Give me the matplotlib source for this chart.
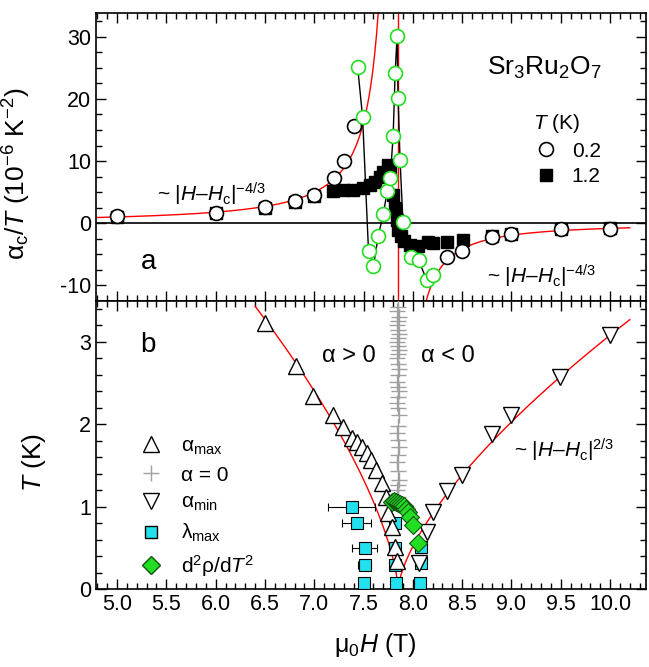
import matplotlib.pyplot as plt
import numpy as np
from matplotlib.lines import Line2D

plt.rcParams['font.family'] = ['Liberation Sans', 'DejaVu Sans']
plt.rcParams['mathtext.fontset'] = 'custom'
plt.rcParams['mathtext.rm'] = 'Liberation Sans'
plt.rcParams['mathtext.it'] = 'Liberation Sans:italic'
plt.rcParams['mathtext.bf'] = 'Liberation Sans:bold'

# ---- panel a : alpha_c / T vs field ----
H_02 = [5.0, 6.0, 6.5, 6.8, 7.0, 7.2, 7.3, 7.4, 8.35, 8.5, 8.8, 9.0, 9.5, 10.0]
a_02 = [1.1, 1.6, 2.6, 3.5, 4.6, 7.2, 10.0, 15.7, -5.5, -4.5, -2.2, -1.8, -1.0, -0.9]

H_12 = [5.0, 6.0, 6.5, 6.8, 7.0, 7.19, 7.29, 7.39, 7.49, 7.57, 7.62, 7.67, 7.70,
        7.75, 7.77, 7.80, 7.82, 7.84, 7.85, 7.88, 7.91, 7.97, 8.05, 8.15, 8.2,
        8.35, 8.51, 8.8, 9.0, 9.5, 10.0]
a_12 = [1.0, 1.7, 2.5, 3.4, 4.4, 5.1, 5.3, 5.3, 5.6, 6.1, 6.7, 7.5, 8.3,
        9.3, 8.5, 4.6, 2.4, 0.5, -1.1, -2.1, -2.9, -3.5, -3.7, -3.0, -3.2,
        -3.0, -2.7, -2.0, -1.7, -1.0, -0.8]

# fine sweep near Hc (green open circles)
H_sw = [7.44, 7.49, 7.55, 7.60, 7.65, 7.70, 7.74, 7.77, 7.80, 7.82, 7.84, 7.85,
        7.87, 7.90, 7.98, 8.06, 8.14, 8.20]
a_sw = [25.1, 17.1, -4.5, -6.9, -2.0, 1.5, 5.1, 7.2, 14.1, 24.2, 30.2, 20.2,
        10.1, 0.1, -5.5, -6.0, -9.2, -8.3]

# power-law fits
Hc = 7.85
A_left, A_right = 4.0, 2.35
B_left, B_right = 2.68, 1.85

# ---- panel b : phase diagram ----
H_amax = [6.5, 6.81, 6.99, 7.19, 7.29, 7.38, 7.43, 7.48, 7.53, 7.58, 7.63, 7.69,
          7.73, 7.75, 7.79, 7.82, 7.84]
T_amax = [3.23, 2.71, 2.35, 2.11, 1.97, 1.84, 1.79, 1.73, 1.66, 1.57, 1.45, 1.29,
          1.12, 0.93, 0.76, 0.51, 0.34]

H_amin = [10.0, 9.49, 9.0, 8.8, 8.5, 8.35, 8.2, 8.14, 8.06]
T_amin = [3.09, 2.57, 2.11, 1.89, 1.39, 1.19, 0.94, 0.70, 0.32]

T_zero = [3.42, 3.37, 3.30, 3.25, 3.20, 3.15, 3.10, 3.05, 3.00, 2.95, 2.90, 2.85,
          2.80, 2.73, 2.67, 2.60, 2.52, 2.45, 2.40, 2.33, 2.26, 2.20, 2.12, 1.98,
          1.90, 1.81, 1.73, 1.63, 1.54, 1.43, 1.33, 1.27, 1.20, 1.12, 1.05]
H_zero = [7.85, 7.84, 7.86, 7.85, 7.84, 7.85, 7.86, 7.85, 7.84, 7.85, 7.86, 7.85,
          7.84, 7.85, 7.86, 7.85, 7.84, 7.85, 7.86, 7.85, 7.84, 7.85, 7.86, 7.85,
          7.84, 7.85, 7.86, 7.85, 7.84, 7.85, 7.86, 7.85, 7.84, 7.85, 7.86]

H_lam = [7.38, 7.43, 7.51, 7.51, 7.50, 7.82, 7.82, 7.82, 7.83, 8.08, 8.08, 8.07]
T_lam = [1.00, 0.80, 0.50, 0.30, 0.08, 0.80, 0.50, 0.30, 0.08, 0.52, 0.32, 0.08]
dH_lam = [0.24, 0.15, 0.13, 0.07, 0.04, 0.04, 0.04, 0.04, 0.04, 0.04, 0.04, 0.04]

H_rho = [7.79, 7.81, 7.83, 7.85, 7.87, 7.89, 7.91, 7.93, 7.95, 7.97, 8.00, 8.05]
T_rho = [1.06, 1.07, 1.06, 1.05, 1.04, 1.03, 1.01, 0.98, 0.94, 0.88, 0.78, 0.56]

green = '#22dd22'
cyan = '#22e0ee'
grey = '#a0a0a0'

fig = plt.figure(figsize=(6.49, 6.67), dpi=100)
ax1 = fig.add_axes([0.148, 0.5492, 0.8475, 0.4313])
ax2 = fig.add_axes([0.148, 0.1162, 0.8475, 0.4330])

for ax in (ax1, ax2):
    ax.set_xlim(4.787, 10.365)
    ax.set_xticks(np.arange(5.0, 10.01, 0.5))
    ax.set_xticks(np.arange(4.8, 10.4, 0.1), minor=True)
    ax.tick_params(which='both', direction='in', top=True, right=True,
                   labelsize=15.5, width=1.0)
    ax.tick_params(which='major', length=7)
    ax.tick_params(which='minor', length=4)
    for s in ax.spines.values():
        s.set_linewidth(1.2)

# --- panel a
ax1.set_ylim(-12.2, 33.85)
ax1.set_yticks([-10, 0, 10, 20, 30])
ax1.set_yticklabels(['-10', '0', '10', '20', '30'])
ax1.set_yticks(np.arange(-12.5, 34, 2.5), minor=True)
ax1.tick_params(labelbottom=False)
ax1.axhline(0, color='black', lw=1.2, zorder=1)
ax1.axvline(Hc, color='red', lw=1.0, zorder=1)

hl = np.linspace(4.787, Hc - 0.19, 300)
ax1.plot(hl, A_left * (Hc - hl) ** (-4 / 3), color='red', lw=1.0, zorder=1)
hr = np.linspace(Hc + 0.25, 10.2, 300)
ax1.plot(hr, -A_right * (hr - Hc) ** (-4 / 3), color='red', lw=1.0, zorder=1)

ax1.plot(H_sw, a_sw, color='black', lw=1.0, zorder=2)
ax1.plot(H_12, a_12, 's', ms=8.5, mfc='black', mec='black', zorder=3)
ax1.plot(H_02, a_02, 'o', ms=10, mfc='white', mec='black', mew=1.2, zorder=4)
ax1.plot(H_sw, a_sw, 'o', ms=10, mfc='white', mec=green, mew=1.2, zorder=4)

ax1.set_ylabel(r'$\mathrm{\alpha}_{\rm c}/T$ (10$^{-6}$ K$^{-2}$)', fontsize=19)
ax1.yaxis.set_label_coords(-0.115, 0.44)

ax1.text(0.095, 0.135, 'a', transform=ax1.transAxes, fontsize=20,
         ha='center', va='center')
ax1.text(0.815, 0.81, r'Sr$_3$Ru$_2$O$_7$', transform=ax1.transAxes,
         fontsize=19, ha='center', va='center')
ax1.text(0.11, 0.37, r'~ |$H$–$H_{\rm c}$|$^{-4/3}$', transform=ax1.transAxes,
         fontsize=15, ha='left', va='center')
ax1.text(0.71, 0.085, r'~ |$H$–$H_{\rm c}$|$^{-4/3}$', transform=ax1.transAxes,
         fontsize=15, ha='left', va='center')

hand1 = [Line2D([], [], ls='none', marker='o', ms=10, mfc='white', mec='black', mew=1.2),
         Line2D([], [], ls='none', marker='s', ms=8.5, mfc='black', mec='black')]
leg1 = ax1.legend(hand1, ['0.2', '1.2'], title=r'$T$ (K)', loc='upper left',
                  bbox_to_anchor=(0.776, 0.691), frameon=False, fontsize=15,
                  title_fontsize=15, handletextpad=0.65, labelspacing=0.3,
                  borderpad=0.0, handlelength=1.2)
leg1._legend_box.align = 'left'

# --- panel b
ax2.set_ylim(0, 3.5)
ax2.set_yticks([0, 1, 2, 3])
ax2.set_yticks(np.arange(0, 3.5, 0.2), minor=True)

hl2 = np.linspace(6.4, Hc, 300)
ax2.plot(hl2, B_left * (Hc - hl2) ** (2 / 3), color='red', lw=1.0, zorder=2)
hr2 = np.linspace(Hc, 10.2, 300)
ax2.plot(hr2, B_right * (hr2 - Hc) ** (2 / 3), color='red', lw=1.0, zorder=2)

ax2.plot(H_zero, T_zero, '+', ms=12, mew=1.0, color=grey, zorder=3)
ax2.errorbar(H_lam, T_lam, xerr=dH_lam, fmt='s', ms=8, mfc=cyan, mec='black',
             mew=0.8, ecolor='black', elinewidth=0.8, capsize=3, zorder=3)
ax2.plot(H_amax, T_amax, '^', ms=11, mfc='white', mec='black', mew=1.0, zorder=4)
ax2.plot(H_amin, T_amin, 'v', ms=11, mfc='white', mec='black', mew=1.0, zorder=4)
ax2.plot(H_rho, T_rho, 'D', ms=9, mfc=green, mec='#115511', mew=0.8, zorder=5)

ax2.set_ylabel(r'$T$ (K)', fontsize=19)
ax2.yaxis.set_label_coords(-0.087, 0.44)
ax2.set_xlabel(r'$\mathrm{\mu}_0H$ (T)', fontsize=18)
ax2.xaxis.set_label_coords(0.507, -0.145)

ax2.text(0.095, 0.845, 'b', transform=ax2.transAxes, fontsize=20,
         ha='center', va='center')
ax2.text(0.46, 0.81, 'α > 0', transform=ax2.transAxes, fontsize=17,
         ha='center', va='center')
ax2.text(0.64, 0.81, 'α < 0', transform=ax2.transAxes, fontsize=17,
         ha='center', va='center')
ax2.text(0.76, 0.48, r'~ |$H$–$H_{\rm c}$|$^{2/3}$', transform=ax2.transAxes,
         fontsize=15, ha='left', va='center')

hand2 = [Line2D([], [], ls='none', marker='^', ms=11, mfc='white', mec='black'),
         Line2D([], [], ls='none', marker='+', ms=12, color=grey),
         Line2D([], [], ls='none', marker='v', ms=11, mfc='white', mec='black'),
         Line2D([], [], ls='none', marker='s', ms=8, mfc=cyan, mec='black'),
         Line2D([], [], ls='none', marker='D', ms=9, mfc=green, mec='#115511')]
lab2 = ['α$_{\\rm max}$', 'α = 0', 'α$_{\\rm min}$', 'λ$_{\\rm max}$',
        'd$^2$ρ/d$T^2$']
ax2.legend(hand2, lab2, loc='upper left', bbox_to_anchor=(0.052, 0.565),
           frameon=False, fontsize=15, handletextpad=0.7, labelspacing=0.41,
           borderpad=0.0, handlelength=1.5)

fig.savefig('out.png', dpi=100)
